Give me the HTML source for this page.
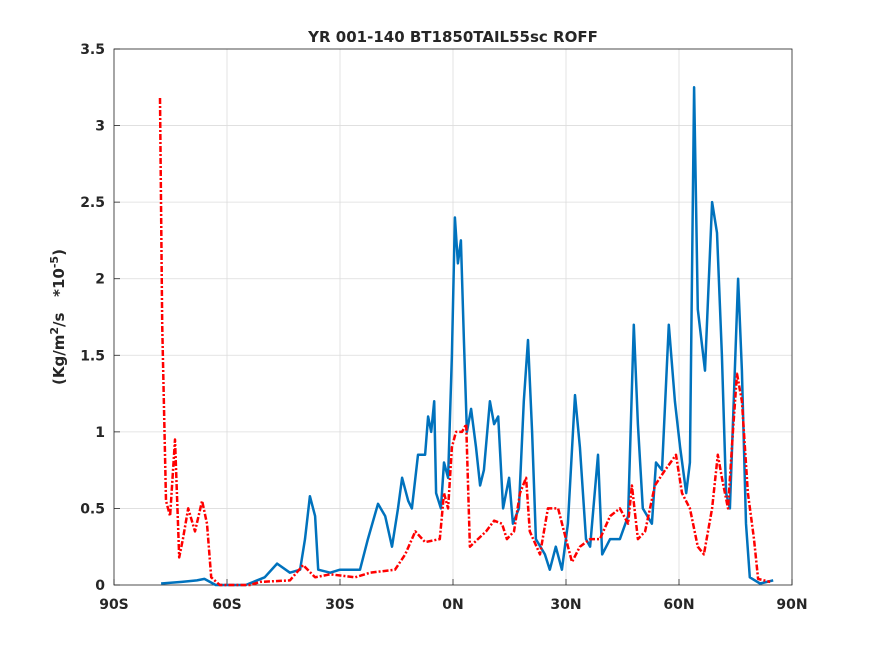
<!DOCTYPE html>
<html><head><meta charset="utf-8"><style>
body{margin:0;background:#fff;}
svg text{font-family:"DejaVu Sans","Liberation Sans",sans-serif;font-weight:bold;fill:#262626;}
</style></head><body>
<svg id="chart" width="875" height="656">
<rect width="875" height="656" fill="#fff"/>
<g id="grid"></g>
<g id="ticks"></g>
<rect x="114" y="49" width="678" height="536" fill="none" stroke="#262626" stroke-width="0.8"/>
<g id="series"></g>
<text x="453" y="42" text-anchor="middle" font-size="15">YR 001-140 BT1850TAIL55sc ROFF</text>
<text transform="translate(64,317) rotate(-90)" text-anchor="middle" font-size="15">(Kg/m<tspan dy="-6" font-size="11">2</tspan><tspan dy="6">/s&#160;&#160;&#160;*10</tspan><tspan dy="-6" font-size="11">-5</tspan><tspan dy="6">)</tspan></text>
</svg>
<script>
const xTicks=[-90,-60,-30,0,30,60,90];
const xTickLabels=["90S","60S","30S","0N","30N","60N","90N"];
const yTicks=[0,0.5,1,1.5,2,2.5,3,3.5];
const yTickLabels=["0","0.5","1","1.5","2","2.5","3","3.5"];
const blueLat=[-77.5,-72,-68,-66,-63,-55,-50,-46.7,-43.3,-40.6,-39.3,-38,-36.6,-35.8,-32.6,-30,-24.7,-22.6,-19.9,-18,-16.2,-14.6,-13.5,-11.9,-10.9,-9.3,-7.4,-6.6,-5.8,-5,-4.5,-3.2,-2.4,-1.3,-0.3,0.5,1.3,2.1,2.9,3.7,4.8,6.1,7.2,8.2,9.8,10.9,12,13.3,14.9,15.9,17.5,18.8,19.9,21,22,24.4,25.7,27.3,28.9,30.5,32.4,33.7,35.3,36.4,38.5,39.6,41.7,44.3,46.5,48,49.1,50.4,52.8,53.9,55.5,57.3,58.9,60.3,61.9,62.9,64,65,66.9,68.8,70.1,71.4,72.5,73.5,75.7,76.7,77.8,78.8,81.5,85];
const blueVal=[0.01,0.02,0.03,0.04,0.0,0.0,0.05,0.14,0.08,0.1,0.3,0.58,0.45,0.1,0.08,0.1,0.1,0.3,0.53,0.45,0.25,0.5,0.7,0.55,0.5,0.85,0.85,1.1,1.0,1.2,0.6,0.5,0.8,0.7,1.5,2.4,2.1,2.25,1.6,1.0,1.15,0.9,0.65,0.75,1.2,1.05,1.1,0.5,0.7,0.4,0.5,1.2,1.6,1.0,0.3,0.2,0.1,0.25,0.1,0.4,1.24,0.9,0.3,0.25,0.85,0.2,0.3,0.3,0.45,1.7,1.05,0.5,0.4,0.8,0.75,1.7,1.2,0.9,0.6,0.8,3.25,1.8,1.4,2.5,2.3,1.5,0.6,0.5,2.0,1.4,0.4,0.05,0.01,0.03];
const redLat=[-77.8,-77.2,-76.2,-75.1,-73.8,-72.7,-71.7,-70.3,-68.5,-66.6,-65.3,-64.2,-61.9,-53.9,-51.2,-43.3,-39.8,-36.6,-32.6,-26,-22,-15.4,-12.7,-10,-7.4,-3.5,-2.4,-1.3,-0.3,0.8,2.4,3.5,4.5,6.6,8.8,10.9,13,14.3,16.2,17.8,19.4,20.4,23.1,25.2,27.9,30,31.6,33.7,36.4,39,41.7,44.3,46.5,47.5,49.1,51,53.6,56.3,59.2,60.8,62.9,65,66.6,68.8,70.3,71.4,73,74.3,75.4,76.7,78.3,79.9,81,84.2];
const redVal=[3.18,1.7,0.55,0.45,0.95,0.18,0.3,0.5,0.35,0.55,0.4,0.05,0.0,0.0,0.02,0.03,0.13,0.05,0.07,0.05,0.08,0.1,0.2,0.35,0.28,0.3,0.6,0.5,0.9,1.0,1.0,1.05,0.25,0.3,0.35,0.42,0.4,0.3,0.35,0.6,0.7,0.35,0.2,0.5,0.5,0.3,0.15,0.25,0.3,0.3,0.45,0.5,0.4,0.65,0.3,0.35,0.65,0.75,0.85,0.6,0.5,0.25,0.2,0.5,0.85,0.7,0.5,1.0,1.38,1.2,0.6,0.3,0.04,0.02];
const X=v=>114+(v+90)/180*678;
const Y=v=>585-v/3.5*536;
const ns="http://www.w3.org/2000/svg";
const grid=document.getElementById('grid'),ticks=document.getElementById('ticks'),series=document.getElementById('series');
function mk(tag,attrs,parent){const e=document.createElementNS(ns,tag);for(const k in attrs)e.setAttribute(k,attrs[k]);parent.appendChild(e);return e;}
xTicks.forEach((t,i)=>{
 const g=mk('line',{x1:X(t),x2:X(t),y1:49,y2:585,stroke:'#dcdcdc','stroke-width':0.8},grid);
 
 
 const tk=mk('line',{x1:X(t),x2:X(t),y1:585,y2:579,stroke:'#262626','stroke-width':0.8},ticks);
 
 
 const tx=mk('text',{x:X(t),y:609,'text-anchor':'middle','font-size':14},ticks);
 tx.textContent=xTickLabels[i];
 
 
});
yTicks.forEach((t,i)=>{
 const g=mk('line',{x1:114,x2:792,y1:Y(t),y2:Y(t),stroke:'#dcdcdc','stroke-width':0.8},grid);
 
 
 const tk=mk('line',{x1:114,x2:120,y1:Y(t),y2:Y(t),stroke:'#262626','stroke-width':0.8},ticks);
 
 
 const tx=mk('text',{x:105,y:Y(t)+5,'text-anchor':'end','font-size':14},ticks);
 tx.textContent=yTickLabels[i];
 
 
});
function path(lat,val){return lat.map((l,i)=>(i?'L':'M')+X(l).toFixed(1)+','+Y(val[i]).toFixed(1)).join('');}
const b=mk('path',{d:path(blueLat,blueVal),fill:'none',stroke:'#0072bd','stroke-width':2.5,'stroke-linejoin':'round'},series);


const r=mk('path',{d:path(redLat,redVal),fill:'none',stroke:'#ff0000','stroke-width':2.5,'stroke-dasharray':'6 2 2 2','stroke-linejoin':'round'},series);


</script>
</body></html>
